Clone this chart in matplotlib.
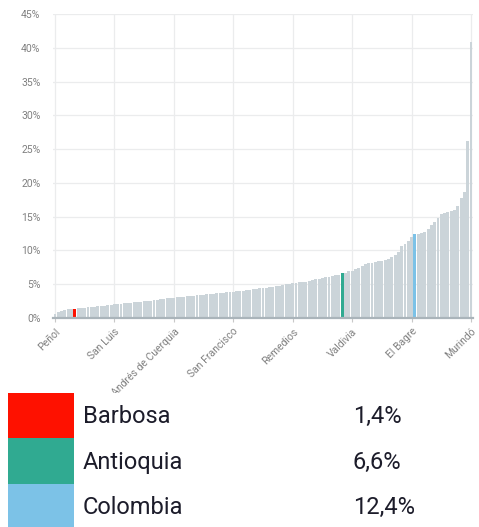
import matplotlib
matplotlib.use("Agg")
import matplotlib.pyplot as plt
from matplotlib.patches import Rectangle

# ---- data (percent) ----
values = [0.6, 0.9, 1.1, 1.2, 1.3, 1.35, 1.4, 1.45, 1.5, 1.55,
          1.6, 1.65, 1.7, 1.75, 1.8, 1.85, 1.9, 1.95, 2.0, 2.05,
          2.1, 2.15, 2.2, 2.25, 2.3, 2.35, 2.4, 2.45, 2.5, 2.55,
          2.6, 2.7, 2.75, 2.8, 2.9, 2.95, 3.0, 3.05, 3.1, 3.15,
          3.2, 3.25, 3.3, 3.35, 3.4, 3.45, 3.5, 3.55, 3.6, 3.65,
          3.7, 3.75, 3.8, 3.85, 3.9, 3.95, 4.0, 4.05, 4.1, 4.2,
          4.25, 4.3, 4.4, 4.45, 4.5, 4.6, 4.65, 4.7, 4.8, 4.9,
          5.0, 5.1, 5.2, 5.25, 5.3, 5.35, 5.4, 5.5, 5.6, 5.7,
          5.8, 5.9, 6.0, 6.1, 6.2, 6.3, 6.4, 6.6, 6.7, 6.9,
          7.0, 7.2, 7.4, 7.7, 8.0, 8.1, 8.2, 8.3, 8.4, 8.5,
          8.6, 8.8, 9.0, 9.3, 9.8, 10.6, 11.0, 11.4, 12.0, 12.4,
          12.5, 12.6, 12.8, 13.2, 13.7, 14.2, 14.8, 15.4, 15.6, 15.7,
          15.8, 16.0, 16.6, 17.8, 18.6, 26.2, 40.8]

tick_positions = [0, 18, 36, 54, 72, 90, 108, 126]
tick_labels = ["Peñol", "San Luis", "San Andrés de Cuerquia", "San Francisco",
               "Remedios", "Valdivia", "El Bagre", "Murindó"]

highlight_names = ["Barbosa", "Antioquia", "Colombia"]
highlight_index = [6, 87, 109]
highlight_values = ["1,4%", "6,6%", "12,4%"]
highlight_colors = ["#fe1100", "#30aa91", "#7cc2e7"]

yticks = [0, 5, 10, 15, 20, 25, 30, 35, 40, 45]

plt.rcParams['font.family'] = ['Roboto', 'DejaVu Sans']

W, H = 479, 527
fig = plt.figure(figsize=(W / 100, H / 100), dpi=100)
fig.patch.set_facecolor("white")

ax = fig.add_axes([53 / W, 1 - 318 / H, 420 / W, 304 / H])
colors = ["#cbd4d9"] * len(values)
for i, c in zip(highlight_index, highlight_colors):
    colors[i] = c
x = list(range(len(values)))
ax.bar(x, values, width=0.88, color=colors, zorder=2, linewidth=0)
ax.set_xlim(-0.6, len(values) - 0.4)
ax.set_ylim(0, 45)
ax.set_yticks(yticks)
ax.set_yticklabels([f"{v}%" for v in yticks])
ax.set_xticks(tick_positions)
ax.set_xticklabels(tick_labels, rotation=45, ha="right", va="top",
                   rotation_mode="anchor")
ax.grid(True, color="#ebeced", linewidth=0.9, zorder=0)
for s in ["left", "right", "top"]:
    ax.spines[s].set_visible(False)
ax.spines["bottom"].set_color("#aab4ba")
ax.spines["bottom"].set_linewidth(1.6)
ax.spines["bottom"].set_zorder(3)
ax.tick_params(axis="y", length=0, pad=9, labelsize=7.5, labelcolor="#808080")
ax.tick_params(axis="x", length=3, color="#c8c8c8", pad=3, labelsize=7.5,
               labelcolor="#808080")

# legend area
lax = fig.add_axes([0, 0, 1, 134 / H], zorder=5)
lax.set_xlim(0, W)
lax.set_ylim(H, 393)
lax.set_facecolor("white")
lax.axis("off")
lax.add_patch(Rectangle((0, 393), W, 134, facecolor="white", edgecolor="none"))
row_tops = [393, 438, 484]
row_h = [45, 46, 45]
for name, val, col, top, h in zip(highlight_names, highlight_values,
                                   highlight_colors, row_tops, row_h):
    lax.add_patch(Rectangle((8, top), 66, h, facecolor=col, edgecolor="none"))
    yc = top + h / 2 + 1
    lax.text(83, yc, name, fontsize=17, color="#1c1c2a", va="center", ha="left")
    lax.text(353, yc, val, fontsize=17, color="#1c1c2a", va="center", ha="left")

fig.savefig("out.png", dpi=100, facecolor="white")
